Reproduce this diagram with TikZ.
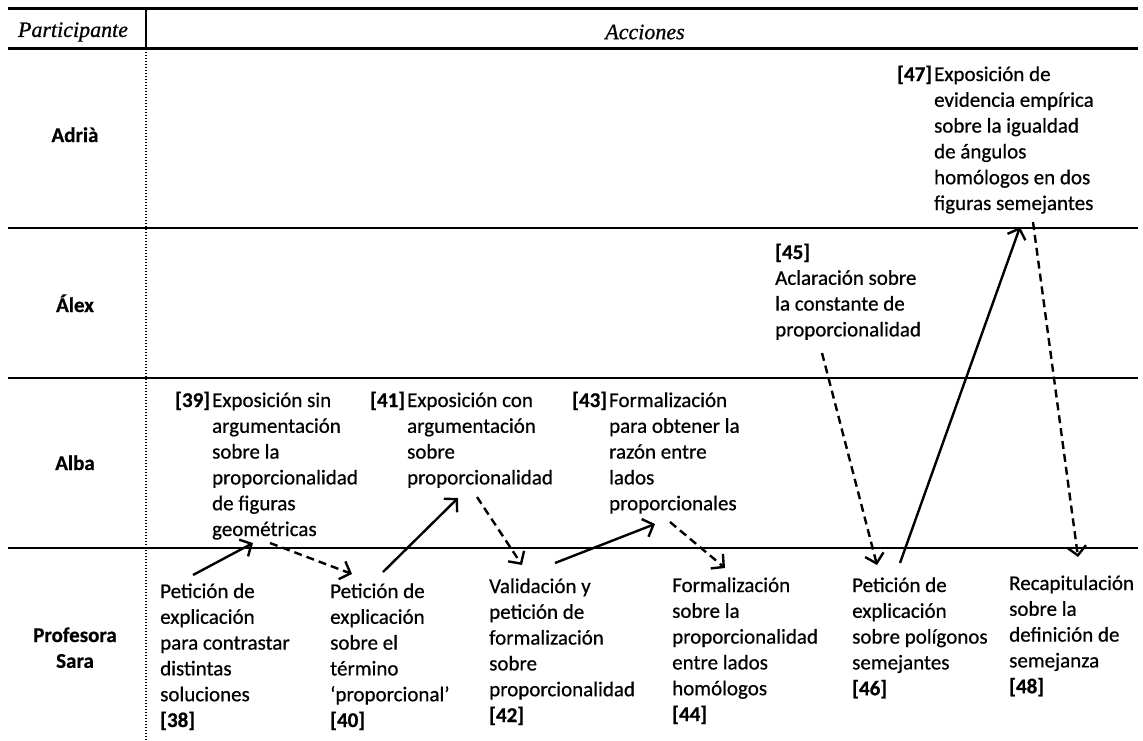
\documentclass[tikz,border=0pt]{standalone}
\usepackage{fontspec}
\setmainfont{Carlito}[FakeBold=0.6]
\newfontfamily\hdfont{Liberation Serif}[FakeBold=0.8]
\usetikzlibrary{arrows.meta}
\tikzset{
  txt/.style={anchor=base west, inner sep=0pt, font=\fontsize{21}{25.8}\selectfont},
  who/.style={anchor=base, inner sep=0pt, font=\fontsize{21}{25.8}\selectfont\bfseries},
  hd/.style={inner sep=0pt, font=\hdfont\itshape\fontsize{22}{26}\selectfont},
  thick rule/.style={line width=3pt},
  thin rule/.style={line width=2pt},
  solidarr/.style={line width=2.4pt, -{Straight Barb[length=9pt,width=19pt]}},
  dasharr/.style={solidarr, dash pattern=on 8pt off 5pt},
}
\newcommand{\blkA}[1]{\begin{tabular}[t]{@{}l@{}}#1\end{tabular}}
\newcommand{\blkB}[1]{\begin{tabular}[t]{@{}l@{\hspace{2pt}}l@{}}#1\end{tabular}}
\begin{document}
\begin{tikzpicture}[x=1pt,y=-1pt]
\useasboundingbox (0,0) rectangle (1143,740);
% table rules
\coordinate (tl) at (8,8);
\coordinate (tr) at (1138,8);
\draw[thick rule] (tl) -- (tr);
\draw[thick rule] (8,48) -- (1138,48);
\draw[line width=2.6pt] (146,8) -- (146,48);
\draw[thin rule] (8,228) -- (1138,228);
\draw[line width=2.4pt] (8,378) -- (1138,378);
\draw[line width=2.4pt] (8,548) -- (1138,548);
\draw[line width=1.7pt, dash pattern=on 1.4pt off 1.6pt] (146,49) -- (146,740);
% headers
\node[hd] (hpart) at (73,32) {Participante};
\node[hd] (hacc) at (645,32) {Acciones};
% participants
\node[who] (pAdria) at (75,142) {Adrià};
\node[who] (pAlex) at (75,312) {Álex};
\node[who] (pAlba) at (75,470) {Alba};
\node[who] (pSara) at (75,642) {\begin{tabular}[t]{@{}c@{}}Profesora\\Sara\end{tabular}};
% Alba actions
\node[txt] (n39) at (175,407) {\blkB{\textbf{[39]} & Exposición sin\\ & argumentación\\ & sobre la\\ & proporcionalidad\\ & de figuras\\ & geométricas}};
\node[txt] (n41) at (370,407) {\blkB{\textbf{[41]} & Exposición con\\ & argumentación\\ & sobre\\ & proporcionalidad}};
\node[txt] (n43) at (572,407) {\blkB{\textbf{[43]} & Formalización\\ & para obtener la\\ & razón entre\\ & lados\\ & proporcionales}};
% Sara actions
\node[txt] (n38) at (160,598) {\blkA{Petición de\\explicación\\para contrastar\\distintas\\soluciones\\\textbf{[38]}}};
\node[txt] (n40) at (330,598) {\blkA{Petición de\\explicación\\sobre el\\término\\‘proporcional’\\\textbf{[40]}}};
\node[txt] (n42) at (489,593) {\blkA{Validación y\\petición de\\formalización\\sobre\\proporcionalidad\\\textbf{[42]}}};
\node[txt] (n44) at (672,592) {\blkA{Formalización\\sobre la\\proporcionalidad\\entre lados\\homólogos\\\textbf{[44]}}};
\node[txt] (n46) at (852,592) {\blkA{Petición de\\explicación\\sobre polígonos\\semejantes\\\textbf{[46]}}};
\node[txt] (n48) at (1009,590) {\blkA{Recapitulación\\sobre la\\definición de\\semejanza\\\textbf{[48]}}};
% Alex
\node[txt] (n45) at (775,259) {\blkA{\textbf{[45]}\\Aclaración sobre\\la constante de\\proporcionalidad}};
% Adria
\node[txt] (n47) at (897,81) {\blkB{\textbf{[47]} & Exposición de\\ & evidencia empírica\\ & sobre la igualdad\\ & de ángulos\\ & homólogos en dos\\ & figuras semejantes}};
% arrows
\draw[solidarr] ([shift={(33,-23)}]n38.base west) -- ([shift={(78,136)}]n39.base west);
\draw[dasharr] ([shift={(95,136)}]n39.base west) -- ([shift={(22,-24)}]n40.base west);
\draw[solidarr] ([shift={(53,-26)}]n40.base west) -- ([shift={(88,91)}]n41.base west);
\draw[dasharr] ([shift={(107,90)}]n41.base west) -- ([shift={(33,-28)}]n42.base west);
\draw[solidarr] ([shift={(66,-30)}]n42.base west) -- ([shift={(83,117)}]n43.base west);
\draw[dasharr] ([shift={(98,115)}]n43.base west) -- ([shift={(53,-24)}]n44.base west);
\draw[dasharr] ([shift={(47,94)}]n45.base west) -- ([shift={(25,-27)}]n46.base west);
\draw[solidarr] ([shift={(48,-29)}]n46.base west) -- ([shift={(123,146)}]n47.base west);
\draw[dasharr] ([shift={(136,141)}]n47.base west) -- ([shift={(69,-33)}]n48.base west);
\end{tikzpicture}
\end{document}
